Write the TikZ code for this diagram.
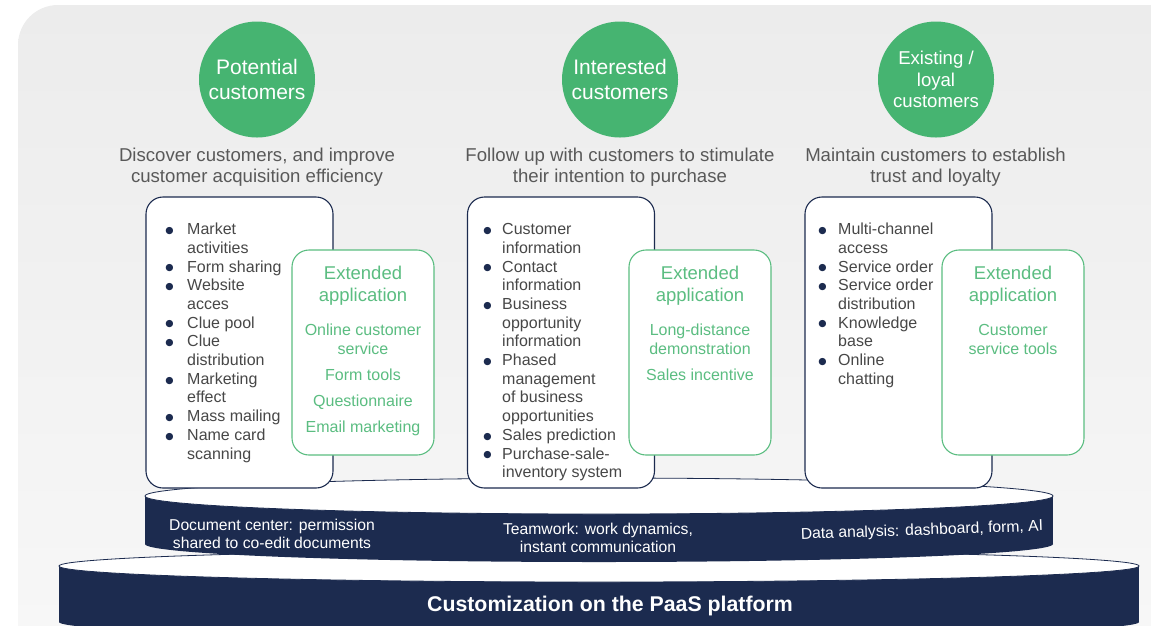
\documentclass[tikz,border=0pt]{standalone}
\usepackage{fontspec}
\setmainfont{Liberation Sans}
\newfontfamily\dotfont{DejaVu Sans}
\usepackage{tikz}

\definecolor{navy}{HTML}{1C2B4F}
\definecolor{stagegreen}{HTML}{46B471}
\definecolor{extgreen}{HTML}{5BBD81}
\definecolor{headgray}{HTML}{595959}
\definecolor{listgray}{HTML}{474747}
\definecolor{bgtop}{HTML}{ECECEC}
\definecolor{bgbottom}{HTML}{F8F8F8}

\newcommand{\itm}{\raisebox{1.2pt}{\textcolor{navy}{\dotfont\fontsize{9.5}{0}\selectfont ●}}}
\newcommand{\bulletlist}[2]{\begin{tabular}{@{}p{#1}@{}l@{}}#2\end{tabular}}

\tikzset{
  stage/.style={circle, fill=stagegreen, minimum size=116pt, inner sep=0pt, text=white, align=center},
  goal/.style={text=headgray, align=center, inner sep=0pt, font=\fontsize{18.6}{21}\selectfont},
  mainbox/.style={draw=navy, line width=1.1pt, fill=white, rounded corners=17pt, minimum width=187pt, minimum height=291pt, inner sep=0pt},
  extbox/.style={draw=extgreen, line width=1.1pt, fill=white, rounded corners=17pt, minimum width=142pt, minimum height=205pt, inner sep=0pt},
  listtext/.style={text=listgray, anchor=north west, inner sep=0pt, font=\fontsize{16}{18.7}\selectfont},
  exttitle/.style={text=extgreen, align=center, inner sep=0pt, font=\fontsize{18.5}{22}\selectfont},
  extitem/.style={text=extgreen, align=center, inner sep=0pt, font=\fontsize{16}{19}\selectfont},
  layertext/.style={text=white, align=center, inner sep=0pt, font=\fontsize{15.7}{18.5}\selectfont}
}

\begin{document}
\begin{tikzpicture}[x=1pt, y=-1pt]
		\useasboundingbox (0,0) rectangle (1151,625);
		\clip (0,0) rectangle (1151,625);
		\shade[top color=bgtop, bottom color=bgbottom, rounded corners=40pt] (18,5) rectangle (1200,690);
		
		% platform layers
		\coordinate (P) at (599,566);
		\coordinate (Pb) at (599,622);
		\fill[navy] (59,566) rectangle (1139,622);
		\fill[navy] (Pb) ellipse [x radius=540pt, y radius=16pt];
		\draw[navy, line width=0.8pt, fill=white] (P) ellipse [x radius=540pt, y radius=16pt];
		
		\coordinate (T) at (599,496);
		\coordinate (Tb) at (599,544);
		\fill[navy] (145,496) rectangle (1053,544);
		\fill[navy] (Tb) ellipse [x radius=454pt, y radius=18pt];
		\draw[navy, line width=0.8pt, fill=white] (T) ellipse [x radius=454pt, y radius=18pt];
		
		\node[layertext] (doc) at (272,534){Document center: permission\\shared to co-edit documents};
		\node[layertext] (team) at (598,538){Teamwork: work dynamics,\\instant communication};
		\node[layertext, rotate=2] (data) at (922,531){Data analysis: dashboard, form, AI};
		\node[text=white, inner sep=0pt, font=\fontsize{21.3}{24}\selectfont\bfseries] (paas) at (610,606){Customization on the PaaS platform};
		
		% stages
		\node[stage, font=\fontsize{21}{25}\selectfont] (S1) at (257,79.5){Potential\\customers};
		\node[stage, font=\fontsize{21}{25}\selectfont] (S2) at (620,79.5){Interested\\customers};
		\node[stage, font=\fontsize{18.6}{21.5}\selectfont] (S3) at (936,79.5){Existing /\\loyal\\customers};
		
		\node[goal] (G1) at (257,167.5){Discover customers, and improve\\customer acquisition efficiency};
		\node[goal] (G2) at (620,167.5){Follow up with customers to stimulate\\their intention to purchase};
		\node[goal] (G3) at (935.5,167.5){Maintain customers to establish\\trust and loyalty};
		
		% functions
		\node[mainbox] (B1) at (239.5,342.5){};
		\node[mainbox] (B2) at (561,342.5){};
		\node[mainbox] (B3) at (898.5,342.5){};
		
		\node[listtext] (L1) at (165.2,221.4){\bulletlist{21.8pt}{
			\itm & Market\\ & activities\\
			\itm & Form sharing\\
			\itm & Website\\ & acces\\
			\itm & Clue pool\\
			\itm & Clue\\ & distribution\\
			\itm & Marketing\\ & effect\\
			\itm & Mass mailing\\
			\itm & Name card\\ & scanning}};
		\node[listtext] (L2) at (483.2,221.4){\bulletlist{18.8pt}{
			\itm & Customer\\ & information\\
			\itm & Contact\\ & information\\
			\itm & Business\\ & opportunity\\ & information\\
			\itm & Phased\\ & management\\ & of business\\ & opportunities\\
			\itm & Sales prediction\\
			\itm & Purchase-sale-\\ & inventory system}};
		\node[listtext] (L3) at (818.2,221.4){\bulletlist{19.8pt}{
			\itm & Multi-channel\\ & access\\
			\itm & Service order\\
			\itm & Service order\\ & distribution\\
			\itm & Knowledge\\ & base\\
			\itm & Online\\ & chatting}};
		
		% extended applications
		\node[extbox] (E1) at (363,352.5){};
		\node[extbox] (E2) at (700,352.5){};
		\node[extbox] (E3) at (1013,352.5){};
		
		\node[exttitle] (E1t) at (363,286){Extended\\application};
		\node[exttitle] (E2t) at (700,286){Extended\\application};
		\node[exttitle] (E3t) at (1013,286){Extended\\application};
		
		\node[extitem] (E1a) at (363,339.5){Online customer\\service};
		\node[extitem] (E1b) at (363,375){Form tools};
		\node[extitem] (E1c) at (363,402){Questionnaire};
		\node[extitem] (E1d) at (363,428){Email marketing};
		\node[extitem] (E2a) at (700,339.5){Long-distance\\demonstration};
		\node[extitem] (E2b) at (700,375){Sales incentive};
		\node[extitem] (E3a) at (1013,339.5){Customer\\service tools};
	\end{tikzpicture}
\end{document}
